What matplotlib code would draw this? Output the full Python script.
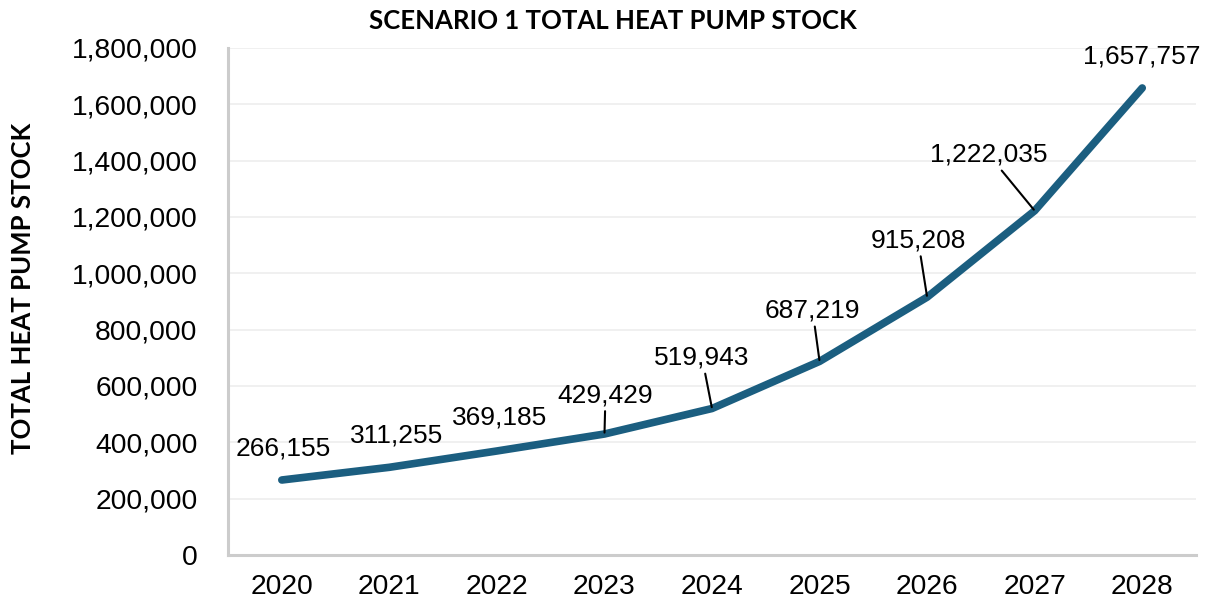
import matplotlib
matplotlib.use("Agg")
import matplotlib.pyplot as plt
from matplotlib.ticker import FuncFormatter

# data
years = ["2020", "2021", "2022", "2023", "2024", "2025", "2026", "2027", "2028"]
stock = [266155, 311255, 369185, 429429, 519943, 687219, 915208, 1222035, 1657757]
labels = ["266,155", "311,255", "369,185", "429,429", "519,943",
          "687,219", "915,208", "1,222,035", "1,657,757"]

# label offsets (pixels) and whether a leader line is drawn
offsets = [(1, 32), (7, 32), (3, 33), (1, 39), (-10, 51),
           (-7, 51), (-9, 57), (-46, 56), (0, 31)]
leaders = [False, False, False, True, True, True, True, True, False]

line_col = "#1b5e80"
num_font = "Liberation Sans"
head_font = "Lato"

fig = plt.figure(figsize=(12.13, 6.08), dpi=100)
ax = fig.add_axes([0.188, 0.0872, 0.798, 0.834])

x = list(range(len(years)))
ax.plot(x, stock, color=line_col, lw=5.5, solid_capstyle="round",
        solid_joinstyle="round", zorder=3)

for i in range(len(years)):
    kw = {}
    if leaders[i]:
        kw["arrowprops"] = dict(arrowstyle="-", color="black", lw=1.5,
                                shrinkA=1, shrinkB=1)
    ax.annotate(labels[i], (x[i], stock[i]), xytext=offsets[i],
                textcoords="offset pixels", ha="center", va="center",
                fontsize=19, family=num_font, color="black", zorder=4, **kw)

ax.set_xlim(-0.5, len(years) - 0.5)
ax.set_ylim(0, 1800000)
ax.set_yticks(range(0, 1800001, 200000))
ax.yaxis.set_major_formatter(FuncFormatter(lambda v, p: f"{int(v):,}"))
ax.set_xticks(x)
ax.set_xticklabels(years)

for lab in ax.get_xticklabels() + ax.get_yticklabels():
    lab.set_family(num_font)
    lab.set_fontsize(20.3)
ax.tick_params(axis="y", length=0, pad=22)
ax.tick_params(axis="x", length=0, pad=14)

ax.grid(axis="y", color="#eeeeee", lw=1.2)
ax.set_axisbelow(True)
for s in ["top", "right"]:
    ax.spines[s].set_visible(False)
for s in ["left", "bottom"]:
    ax.spines[s].set_color("#cccccc")
    ax.spines[s].set_linewidth(2.2)

fig.text(0.019, 0.526, "TOTAL HEAT PUMP STOCK", family=head_font,
         fontweight="bold", fontsize=18.5, rotation=90, ha="center", va="center")
fig.text(0.505, 0.965, "SCENARIO 1 TOTAL HEAT PUMP STOCK", family=head_font,
         fontweight="bold", fontsize=18.5, ha="center", va="center")

fig.savefig("out.png", dpi=100)
